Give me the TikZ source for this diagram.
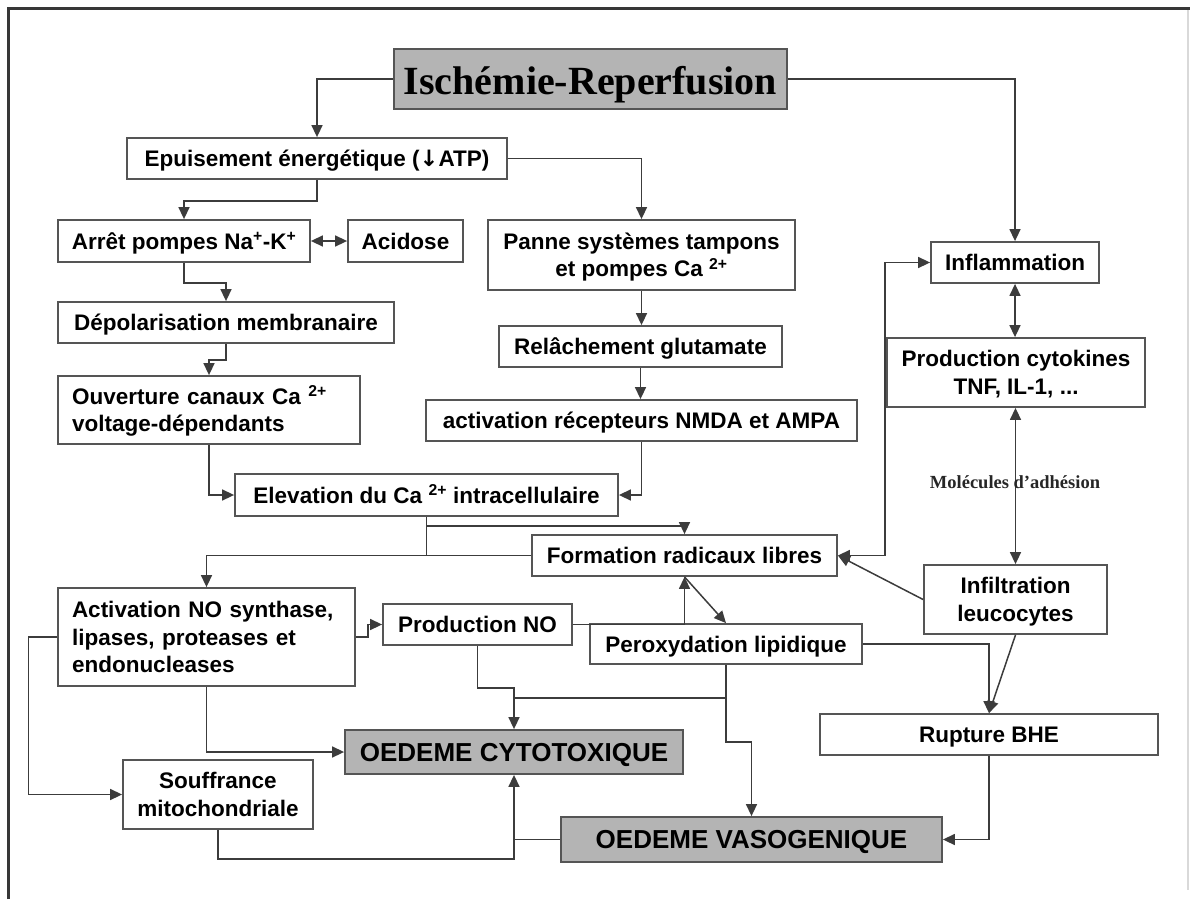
\documentclass[tikz,border=0pt]{standalone}
\usepackage{fontspec}
\setmainfont{Liberation Sans}
\newfontfamily\serifb{Liberation Serif}
\newfontfamily\arrowfont{DejaVu Sans}
\usetikzlibrary{arrows.meta,calc}
\definecolor{linec}{RGB}{60,60,60}
\definecolor{boxc}{RGB}{85,85,85}
\definecolor{framec}{RGB}{55,55,55}
\definecolor{fillg}{RGB}{180,180,180}
\newcommand{\zs}{\rule[-5pt]{0pt}{26pt}}
\begin{document}
\begin{tikzpicture}[x=1pt,y=-1pt,
  box/.style={draw=boxc,line width=1.8pt,fill=white,inner sep=0pt,align=center,
    font=\fontsize{22.5}{27.5}\selectfont\bfseries},
  lbox/.style={box,align=left,inner xsep=14pt},
  gbox/.style={box,fill=fillg,font=\fontsize{26}{30}\selectfont\bfseries,text height=24pt,text depth=5.5pt},
  titlebox/.style={box,fill=fillg,font=\serifb\bfseries\fontsize{40}{44}\selectfont,text height=39pt,text depth=9pt},
  tip/.tip={Triangle[length=12pt,width=11pt]},
  arr/.style={draw=linec,line width=1.5pt,-tip},
  arrb/.style={draw=linec,line width=1.5pt,tip-tip},
  ln/.style={draw=linec,line width=1.5pt}]
\useasboundingbox (0,0) rectangle (1190,899);
% frame
\draw[line width=3pt,framec] (8,899) -- (8,8.5) -- (1190,8.5);
\draw[line width=1.2pt,black!15] (1188,10) -- (1188,890);

% nodes
\node[titlebox,minimum width=393pt,minimum height=60pt] (isch) at (590.5,79) {Ischémie-Reperfusion};
\node[box,minimum width=380pt,minimum height=41pt] (epuis) at (317,158.5) {\zs Epuisement énergétique ({\arrowfont\bfseries ↓}ATP)};
\node[box,minimum width=252pt,minimum height=42pt] (arret) at (184,241) {\zs Arrêt pompes Na\textsuperscript{+}-K\textsuperscript{+}};
\node[box,minimum width=115pt,minimum height=42pt] (acid) at (405.5,241) {\zs Acidose};
\node[box,minimum width=307pt,minimum height=70pt] (panne) at (641.5,255) {\zs Panne systèmes tampons\\\zs et pompes Ca \textsuperscript{2+}};
\node[box,minimum width=168pt,minimum height=41pt] (infl) at (1015,262.5) {\zs Inflammation};
\node[box,minimum width=336pt,minimum height=41pt] (depol) at (226,322.5) {\zs Dépolarisation membranaire};
\node[box,minimum width=283pt,minimum height=41pt] (relach) at (640.5,346.5) {\zs Relâchement glutamate};
\node[lbox,text width=274pt,minimum height=68pt] (ouvert) at (209,410) {\zs Ouverture canaux Ca \textsuperscript{2+}\\\zs voltage-dépendants};
\node[box,minimum width=431pt,minimum height=41pt] (activ) at (641.5,420.5) {\zs activation récepteurs NMDA et AMPA};
\node[box,minimum width=258pt,minimum height=69pt] (cyto) at (1016,372.5) {\zs Production cytokines\\\zs TNF, IL-1, ...};
\node[box,minimum width=383pt,minimum height=42pt] (elev) at (426.5,495) {\zs Elevation du Ca \textsuperscript{2+} intracellulaire};
\node[box,minimum width=305pt,minimum height=41pt] (radic) at (684.5,555.5) {\zs Formation radicaux libres};
\node[box,minimum width=183pt,minimum height=69pt] (infil) at (1015.5,599.5) {\zs Infiltration\\\zs leucocytes};
\node[lbox,text width=269pt,minimum height=98pt] (nos) at (206.5,637) {\zs Activation NO synthase,\\\zs lipases, proteases et\\\zs endonucleases};
\node[box,minimum width=189pt,minimum height=41pt] (prodno) at (477.5,624.5) {\zs Production NO};
\node[box,minimum width=272pt,minimum height=40pt] (perox) at (726,644) {\zs Peroxydation lipidique};
\node[box,minimum width=338pt,minimum height=41pt] (rupt) at (989,734.5) {\zs Rupture BHE};
\node[gbox,minimum width=338pt,minimum height=44pt] (oedc) at (514,752) {OEDEME CYTOTOXIQUE};
\node[box,minimum width=190pt,minimum height=69pt] (souf) at (218,794.5) {\zs Souffrance\\\zs mitochondriale};
\node[gbox,minimum width=381pt,minimum height=45pt] (oedv) at (751.5,839.5) {OEDEME VASOGENIQUE};

% connectors
\draw[arr] (isch.west) -| (epuis.north);
\draw[arr] (isch.east) -| (infl.north);
\draw[arr] (epuis.south) -- ++(0,21) -| (arret.north);
\draw[arr] (epuis.east) -| (panne.north);
\draw[arrb] (arret.east) -- (acid.west);
\draw[arr] (arret.south) -- ++(0,20) -| (depol.north);
\draw[arr] (depol.south) -- ++(0,16) -| (ouvert.north);
\draw[arr] (ouvert.south) |- (elev.west);
\draw[arr] (panne.south) -- (panne.south |- relach.north);
\draw[arr] (relach.south) -- (relach.south |- activ.north);
\draw[arr] (activ.south) |- (elev.east);
\coordinate (j1) at (elev.south |- radic.west);
\coordinate (j2) at ($(elev.south)+(0,9)$);
\draw[arr] (elev.south) -- (j1) -| (nos.north);
\draw[ln] (radic.west) -- (j1);
\draw[arr] (j2) -| (radic.north);
\draw[arrb] (radic.east) -- ++(47,0) |- (infl.west);
\draw[arrb] (infl.south) -- (infl.south |- cyto.north);
\draw[arrb] (cyto.south -| infil.north) -- (infil.north);
\node[font=\serifb\bfseries\fontsize{18.5}{20}\selectfont,inner sep=0pt,text=black!85] (mol) at (1015,482) {Molécules d’adhésion};
\draw[arr] (infil.west) -- (radic.east);
\draw[arr] (infil.south) -- (rupt.north);
\draw[arr] (perox.east) -| (rupt.north);
\draw[arr] (nos.east) -- ++(12,0) |- (prodno.west);
\draw[arr] (nos.west) -- ++(-28.5,0) |- (souf.west);
\draw[arr] (nos.south) |- (oedc.west);
\draw[arr] (prodno.east) -| (radic.south);
\draw[arr] (radic.south) -- (perox.north);
\draw[arr] (prodno.south) -- ++(0,42) -| (oedc.north);
\draw[arr] (perox.south) -- ++(0,77) -| (oedv.north);
\coordinate (j3) at ($(perox.south)+(0,33)$);
\draw[ln] (j3) -- (j3 -| oedc.north);
\draw[arr] (souf.south) -- ++(0,29) -| (oedc.south);
\draw[ln] (oedv.west) -- (oedv.west -| oedc.south);
\draw[arr] (rupt.south) |- (oedv.east);
\end{tikzpicture}
\end{document}
